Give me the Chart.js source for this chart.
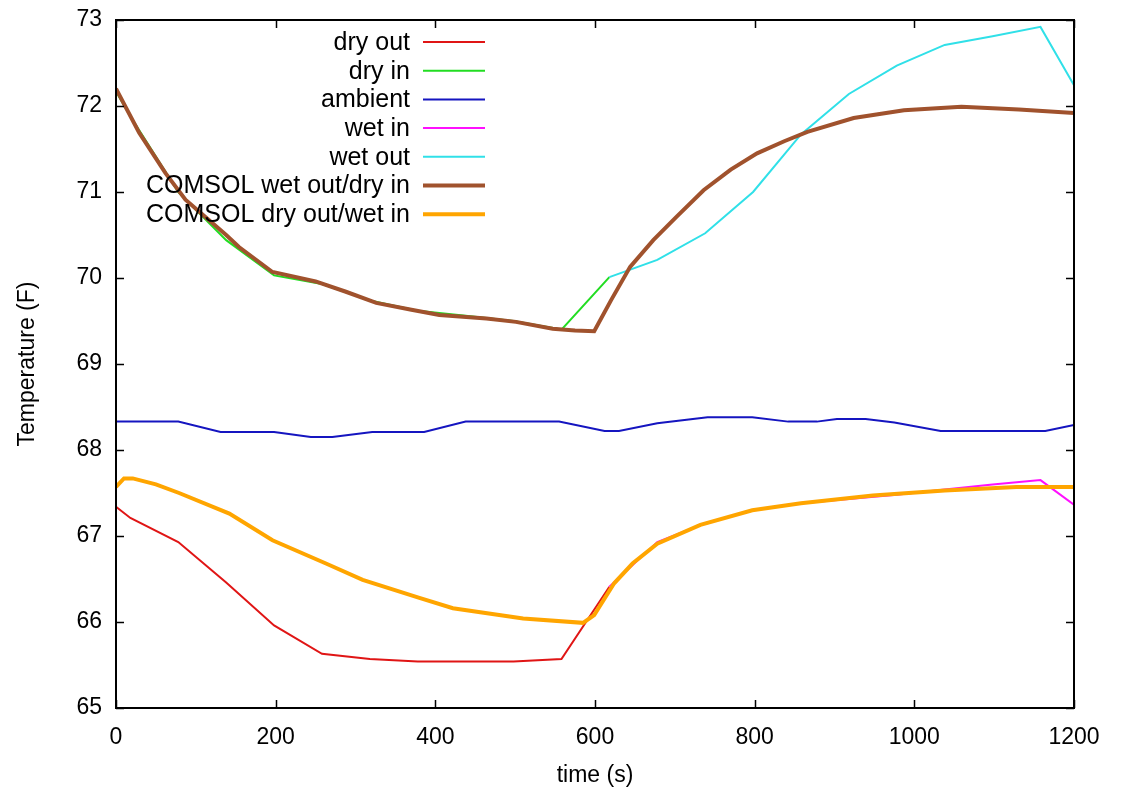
<!DOCTYPE html>
<html>
<head>
<meta charset="utf-8">
<title>Temperature vs time</title>
<script src="https://cdn.jsdelivr.net/npm/chart.js@4/dist/chart.umd.min.js"></script>
<style>
body{margin:0;background:#fff}
canvas{display:block}
</style>
</head>
<body>
<canvas id="tempChart" width="1122" height="792"></canvas>
<script>
// measured temperatures (F), sampled about once a minute
const dryOutTime = [0, 18, 78, 138, 198, 258, 318, 378, 438, 498, 558, 618]
const dryOutTemp = [67.34, 67.21, 66.93, 66.46, 65.96, 65.63, 65.57, 65.54, 65.54, 65.54, 65.57, 66.41]

const dryInTime = [0, 18, 78, 138, 198, 258, 318, 378, 438, 498, 558, 618]
const dryInTemp = [72.17, 71.88, 71.0, 70.44, 70.03, 69.93, 69.74, 69.62, 69.56, 69.50, 69.40, 70.01]

const ambientTime = [0, 78, 131, 198, 244, 271, 321, 386, 438, 555, 612, 630, 678, 741, 797, 842, 878, 903, 939, 975, 1033, 1164, 1200]
const ambientTemp = [68.33, 68.33, 68.21, 68.21, 68.15, 68.15, 68.21, 68.21, 68.33, 68.33, 68.22, 68.22, 68.31, 68.38, 68.38, 68.33, 68.33, 68.36, 68.36, 68.32, 68.22, 68.22, 68.29]

const wetInTime = [618, 678, 738, 798, 858, 918, 978, 1038, 1098, 1158, 1218]
const wetInTemp = [66.41, 66.93, 67.15, 67.30, 67.38, 67.43, 67.48, 67.54, 67.60, 67.65, 67.24]

const wetOutTime = [618, 678, 738, 798, 858, 918, 978, 1038, 1098, 1158, 1218]
const wetOutTemp = [70.01, 70.21, 70.52, 71.00, 71.67, 72.14, 72.47, 72.71, 72.81, 72.92, 71.95]

// COMSOL model curves
const comsolWetOutTime = [0, 29, 62, 87, 112, 138, 154, 196, 250, 288, 326, 370, 405, 464, 501, 547, 575, 599, 620, 644, 673, 702, 736, 770, 803, 837, 866, 924, 987, 1059, 1131, 1200]
const comsolWetOutTemp = [72.20, 71.69, 71.22, 70.91, 70.71, 70.50, 70.36, 70.07, 69.96, 69.84, 69.71, 69.63, 69.57, 69.53, 69.49, 69.41, 69.39, 69.38, 69.74, 70.13, 70.44, 70.71, 71.02, 71.26, 71.45, 71.59, 71.70, 71.86, 71.95, 71.99, 71.96, 71.92]

const comsolDryOutTime = [0, 10, 21, 50, 79, 142, 196, 263, 309, 380, 422, 510, 585, 599, 624, 647, 678, 732, 797, 858, 948, 1038, 1128, 1200]
const comsolDryOutTemp = [67.57, 67.67, 67.67, 67.60, 67.50, 67.26, 66.95, 66.68, 66.49, 66.28, 66.16, 66.04, 65.99, 66.08, 66.45, 66.68, 66.91, 67.13, 67.30, 67.38, 67.47, 67.53, 67.57, 67.57]

const seriesNames = ["dry out", "dry in", "ambient", "wet in", "wet out", "COMSOL wet out/dry in", "COMSOL dry out/wet in"]
const seriesTimes = [dryOutTime, dryInTime, ambientTime, wetInTime, wetOutTime, comsolWetOutTime, comsolDryOutTime]
const seriesTemps = [dryOutTemp, dryInTemp, ambientTemp, wetInTemp, wetOutTemp, comsolWetOutTemp, comsolDryOutTemp]
const seriesColors = ["#e01515", "#22dd22", "#1515c0", "#ff10ff", "#30e0e8", "#a0522d", "#ffa500"]
const seriesWidths = [2, 2, 2, 2, 2, 4, 4]

const FONT = "'Liberation Sans', Arial, sans-serif"

const datasets = seriesNames.map((name, i) => ({
  label: name,
  data: seriesTimes[i].map((t, k) => ({x: t, y: seriesTemps[i][k]})),
  borderColor: seriesColors[i],
  backgroundColor: seriesColors[i],
  borderWidth: seriesWidths[i],
  pointRadius: 0,
  tension: 0,
  fill: false,
  order: seriesNames.length - i   // later series on top
}))

// box around the plot with inward ticks on all four sides
const frame = {
  id: "frame",
  afterDraw(chart){
    const {ctx, chartArea: a, scales: {x, y}} = chart
    ctx.save()
    ctx.strokeStyle = "#000"
    ctx.lineWidth = 2
    ctx.strokeRect(a.left, a.top, a.right - a.left, a.bottom - a.top)
    ctx.lineWidth = 1.5
    ctx.beginPath()
    x.ticks.forEach(t => {
      const px = Math.round(x.getPixelForValue(t.value)) + 0.5
      ctx.moveTo(px, a.bottom); ctx.lineTo(px, a.bottom - 8)
      ctx.moveTo(px, a.top); ctx.lineTo(px, a.top + 8)
    })
    y.ticks.forEach(t => {
      const py = Math.round(y.getPixelForValue(t.value)) + 0.5
      ctx.moveTo(a.left, py); ctx.lineTo(a.left + 8, py)
      ctx.moveTo(a.right, py); ctx.lineTo(a.right - 8, py)
    })
    ctx.stroke()
    ctx.restore()
  }
}

// key: label on the left, line sample on the right
const key = {
  id: "key",
  afterDraw(chart){
    const ctx = chart.ctx
    ctx.save()
    ctx.font = "25px " + FONT
    ctx.textAlign = "right"
    ctx.textBaseline = "middle"
    chart.data.datasets.forEach((ds, i) => {
      const row = 42 + i * 28.7
      ctx.fillStyle = "#000"
      ctx.fillText(ds.label, 410, row + 1)
      ctx.strokeStyle = ds.borderColor
      ctx.lineWidth = ds.borderWidth
      ctx.beginPath()
      ctx.moveTo(423, row)
      ctx.lineTo(485, row)
      ctx.stroke()
    })
    ctx.restore()
  }
}

new Chart(document.getElementById("tempChart"), {
  type: "line",
  data: {datasets: datasets},
  options: {
    responsive: false,
    animation: false,
    devicePixelRatio: 1,
    layout: {padding: {top: 20, right: 48, left: 0, bottom: 0}},
    plugins: {legend: {display: false}, tooltip: {enabled: false}},
    scales: {
      x: {
        type: "linear",
        min: 0,
        max: 1200,
        afterFit: s => { s.height = 84 },
        ticks: {stepSize: 200, color: "#000", padding: 16, font: {family: FONT, size: 23}, callback: v => String(v)},
        grid: {display: false, drawTicks: false},
        border: {display: false},
        title: {display: true, text: "time (s)", color: "#000", padding: {top: 0, bottom: 3}, font: {family: FONT, size: 23}}
      },
      y: {
        type: "linear",
        min: 65,
        max: 73,
        afterFit: s => { s.width = 116; s.paddingTop = 0; s.paddingBottom = 0 },
        ticks: {stepSize: 1, color: "#000", padding: 14, font: {family: FONT, size: 23}, callback: v => String(v)},
        grid: {display: false, drawTicks: false},
        border: {display: false},
        title: {display: true, text: "Temperature (F)", color: "#000", padding: {top: 14, bottom: 0}, font: {family: FONT, size: 23}}
      }
    }
  },
  plugins: [frame, key]
})
</script>
</body>
</html>
